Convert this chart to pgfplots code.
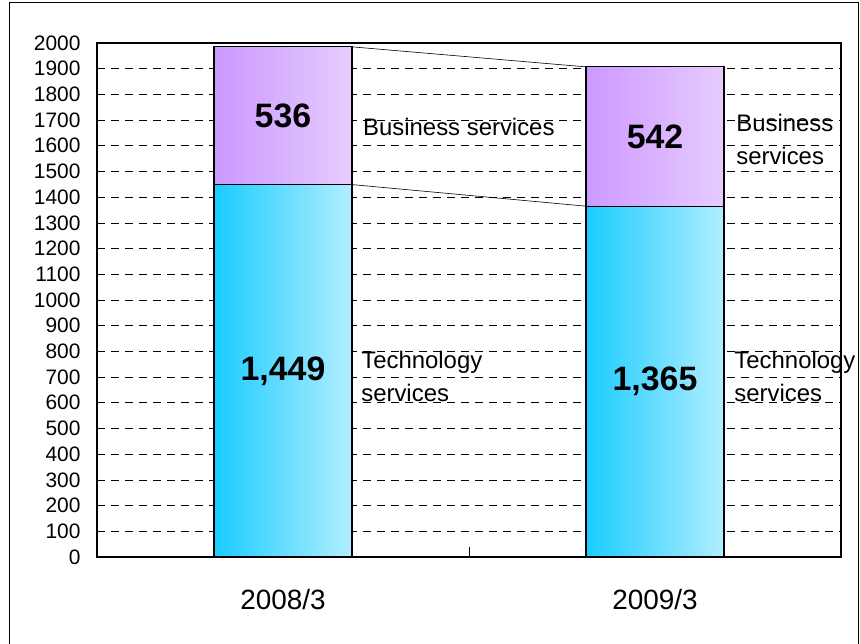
\documentclass[border=0pt]{standalone}
\usepackage{pgfplots}
\pgfplotsset{compat=1.18}
\usepackage{fontspec}
\setmainfont{Liberation Sans}
\definecolor{cyanL}{HTML}{1ACCFF}
\definecolor{cyanR}{HTML}{B2EEFF}
\definecolor{purL}{HTML}{CC99FF}
\definecolor{purR}{HTML}{E6CCFF}
\pgfplotsset{
  common/.style={
    at={(97bp,87bp)}, anchor=south west,
    scale only axis, width=744bp, height=514bp,
    xmin=-0.5, xmax=1.5, ymin=0, ymax=2000,
    ybar stacked, bar width=0.371,
  },
  barstyle/.style={draw=black, line width=1.2bp},
}
\begin{document}
\begin{tikzpicture}[x=1bp,y=1bp]
\useasboundingbox (0,0) rectangle (860,644);
\draw[line width=1bp] (9,-5) rectangle (858,641);
% axis with frame, grid and the 2008/3 bar
\begin{axis}[
  common,
  ytick={0,100,...,2000},
  xtick={0,1}, xticklabels={2008/3,2009/3},
  minor xtick={0.5},
  xtick pos=lower, ytick pos=left,
  major tick length=0pt, minor tick length=10bp,
  ymajorgrids,
  major grid style={black, line width=0.7bp, dash pattern=on 8bp off 6bp},
  minor tick style={black, line width=0.8bp},
  axis line style={line width=1.5bp},
  /pgf/number format/assume math mode=true,
  /pgf/number format/1000 sep={},
  yticklabel style={font=\fontsize{21}{21}\selectfont, xshift=-13bp},
  xticklabel style={font=\fontsize{28}{28}\selectfont, yshift=-29bp},
]
\addplot[barstyle, left color=cyanL, right color=cyanR] coordinates {(0,1449)};
\addplot[barstyle, left color=purL, right color=purR] coordinates {(0,536)};
\end{axis}
% overlaid axis with the 2009/3 bar; anchor points for the annotations
\begin{axis}[common, hide axis, clip=false]
\addplot[barstyle, left color=cyanL, right color=cyanR] coordinates {(1,1365)};
\addplot[barstyle, left color=purL, right color=purR] coordinates {(1,542)};
\coordinate (a1) at (axis cs:0.1855,1985);
\coordinate (a2) at (axis cs:0.8145,1907);
\coordinate (b1) at (axis cs:0.1855,1449);
\coordinate (b2) at (axis cs:0.8145,1365);
\coordinate (v1) at (axis cs:0,1717);
\coordinate (v2) at (axis cs:1,1636);
\coordinate (v3) at (axis cs:0,724);
\coordinate (v4) at (axis cs:1,682);
\coordinate (t1) at (axis cs:0.215,1673);
\coordinate (t2) at (axis cs:0.21,704);
\coordinate (t3) at (axis cs:1.218,1626);
\coordinate (t4) at (axis cs:1.213,704);
\end{axis}
\draw[black, line width=0.6bp] (a1) -- (a2);
\draw[black, line width=0.6bp] (b1) -- (b2);
\node[font=\bfseries\fontsize{34}{36}\selectfont] at (v1) {536};
\node[font=\bfseries\fontsize{34}{36}\selectfont] at (v2) {542};
\node[font=\bfseries\fontsize{34}{36}\selectfont] at (v3) {1,449};
\node[font=\bfseries\fontsize{34}{36}\selectfont] at (v4) {1,365};
\node[anchor=west, inner sep=0pt, font=\fontsize{24}{33}\selectfont] at (t1) {Business services};
\node[anchor=west, inner sep=0pt, align=left, font=\fontsize{24}{33}\selectfont] at (t2) {Technology\\services};
\node[anchor=west, inner sep=0pt, align=left, font=\fontsize{24}{33}\selectfont] at (t3) {Business\\services};
\node[anchor=west, inner sep=0pt, align=left, font=\fontsize{24}{33}\selectfont] at (t4) {Technology\\services};
\end{tikzpicture}
\end{document}
